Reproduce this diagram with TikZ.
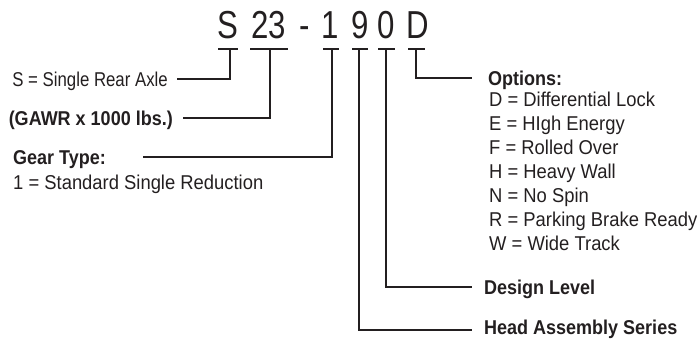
\documentclass[tikz,border=0pt]{standalone}
\usepackage{fontspec}
\setmainfont{Liberation Sans}[FakeStretch=0.92, BoldFeatures={FakeStretch=0.9}]
\newfontfamily\codefont{Liberation Sans}[FakeStretch=0.8]
\newfontfamily\narrowfont{Liberation Sans}[FakeStretch=0.84]
\definecolor{ink}{HTML}{231F20}
\begin{document}
\begin{tikzpicture}[x=1pt,y=-1pt,
  code/.style={font=\codefont\fontsize{39}{39}\selectfont, inner sep=0pt, anchor=base, text=ink},
  conn/.style={line width=2pt, draw=ink},
  lab/.style={font=\fontsize{20}{24}\selectfont, inner ysep=0pt, inner xsep=0pt, text height=14pt, text depth=0pt, text=ink},
  blab/.style={lab, font=\bfseries\fontsize{20}{24}\selectfont}]
\useasboundingbox (0,0) rectangle (697,343);
% code characters
\node[code] (cS) at (228,38) {S};
\node[code] (c23) at (269,38) {23};
\node[code] (cdash) at (305,38) {-};
\node[code] (c1) at (330,38) {1};
\node[code] (c9) at (360,38) {9};
\node[code] (c0) at (386,38) {0};
\node[code] (cD) at (418,38) {D};
% underline bars
\draw[conn] (218,49) -- (238,49);
\draw[conn] (250,49) -- (288,49);
\draw[conn] (323,49) -- (339,49);
\draw[conn] (352,49) -- (368,49);
\draw[conn] (378,49) -- (395,49);
\draw[conn] (408,49) -- (425,49);
% junctions
\coordinate (jS) at (230,49);
\coordinate (j23) at (270,49);
\coordinate (j1) at (332,49);
\coordinate (j9) at (359,49);
\coordinate (j0) at (386,49);
\coordinate (jD) at (416,49);
% left labels
\node[lab, font=\narrowfont\fontsize{20}{24}\selectfont, anchor=east, inner xsep=9pt] (lS) at (177,79) {S = Single Rear Axle};
\node[blab, anchor=east, inner xsep=10pt] (lG) at (183,118) {(GAWR x 1000 lbs.)};
\node[blab, anchor=west] (lGear) at (13,157) {Gear Type:};
\coordinate (gT) at (143,157);
\node[lab, anchor=west] (lStd) at (13,182) {1 = Standard Single Reduction};
% right labels
\node[blab, anchor=west, inner xsep=16pt] (lOpt) at (472,78) {Options:};
\foreach \t [count=\i] in {D = Differential Lock, E = HIgh Energy, F = Rolled Over, H = Heavy Wall, N = No Spin, R = Parking Brake Ready, W = Wide Track}
  \node[lab, anchor=west] (o\i) at (489,{75+24*\i}) {\t};
\node[blab, anchor=west, inner xsep=12pt] (lDes) at (472,287) {Design Level};
\node[blab, anchor=west, inner xsep=12pt] (lHead) at (472,327) {Head Assembly Series};
\coordinate (hd) at (472,330);
% connectors
\draw[conn] (jS) |- (lS.east);
\draw[conn] (j23) |- (lG.east);
\draw[conn] (j1) |- (gT);
\draw[conn] (jD) |- (lOpt.west);
\draw[conn] (j0) |- (lDes.west);
\draw[conn] (j9) |- (hd);
\end{tikzpicture}
\end{document}
